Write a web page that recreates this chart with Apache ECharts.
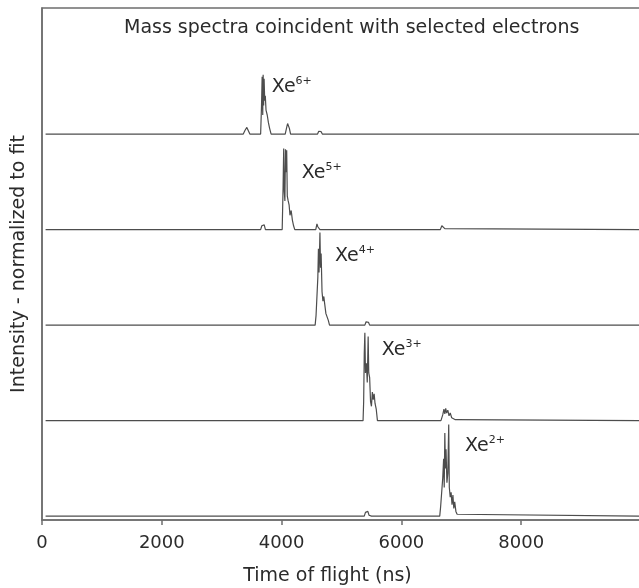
<!DOCTYPE html>
<html>
<head>
<meta charset="utf-8">
<script src="https://cdn.jsdelivr.net/npm/echarts@6/dist/echarts.min.js"></script>
<style>html,body{margin:0;padding:0;background:#fff}#c{width:639px;height:588px}</style>
</head>
<body>
<div id="c"></div>
<script>
// Time of flight (ns) and normalized intensity for each spectrum (Xe6+ ... Xe2+)
const time6 = [60, 1700, 1720, 1740, 3360, 3390, 3420, 3445, 3470, 3650, 3665, 3675, 3685, 3692, 3700, 3708, 3718, 3728, 3740, 3760, 3780, 3800, 3825, 4060, 4085, 4100, 4115, 4130, 4150, 4600, 4620, 4640, 4660, 4680, 4700, 4720, 10000];
const int6  = [0, 0, 0.01, 0, 0, 0.04, 0.07, 0.05, 0, 0, 0.3, 0.6, 0.2, 0.62, 0.3, 0.58, 0.35, 0.4, 0.25, 0.2, 0.12, 0.06, 0, 0, 0.07, 0.11, 0.09, 0.06, 0, 0, 0.03, 0.01, 0.025, 0, 0.02, 0, 0];

const time5 = [60, 1680, 1700, 1720, 2580, 2600, 2620, 3280, 3300, 3320, 3650, 3670, 3690, 3710, 3730, 4010, 4025, 4035, 4045, 4055, 4065, 4075, 4085, 4095, 4110, 4125, 4140, 4160, 4180, 4200, 4220, 4570, 4590, 4605, 4620, 4640, 5120, 5140, 5160, 5310, 5330, 5350, 5460, 5480, 5500, 6650, 6675, 6690, 6705, 6725, 6750, 10000];
const int5  = [0, 0, 0.015, 0, 0, 0.015, 0, 0, 0.015, 0, 0, 0.04, 0.02, 0.05, 0, 0, 0.45, 0.85, 0.4, 0.3, 0.84, 0.6, 0.83, 0.35, 0.3, 0.26, 0.15, 0.2, 0.1, 0.04, 0, 0, 0.06, 0.03, 0.05, 0, 0, 0.015, 0, 0, 0.015, 0, 0, 0.015, 0, 0, 0.04, 0.02, 0.05, 0.01, 0, 0];

const time4 = [60, 780, 800, 820, 2560, 2580, 2600, 3580, 3600, 3620, 4560, 4575, 4595, 4605, 4615, 4625, 4640, 4650, 4660, 4675, 4690, 4705, 4720, 4740, 4760, 4780, 4800, 5390, 5410, 5430, 5450, 5470, 10000];
const int4  = [0, 0, 0.015, 0, 0, 0.01, 0, 0, 0.015, 0, 0, 0.1, 0.12, 0.5, 0.8, 0.55, 0.97, 0.6, 0.75, 0.35, 0.25, 0.3, 0.22, 0.12, 0.1, 0.05, 0, 0, 0.035, 0.015, 0.03, 0, 0];

const time3 = [60, 5360, 5370, 5380, 5390, 5400, 5415, 5430, 5445, 5455, 5470, 5485, 5500, 5515, 5530, 5545, 5560, 5580, 5600, 6660, 6690, 6710, 6725, 6740, 6755, 6775, 6795, 6815, 6840, 6870, 6900, 6930, 10000];
const int3  = [0, 0, 0.2, 0.7, 0.92, 0.5, 0.6, 0.4, 0.88, 0.5, 0.45, 0.2, 0.15, 0.3, 0.22, 0.28, 0.18, 0.12, 0, 0, 0.06, 0.12, 0.07, 0.13, 0.08, 0.11, 0.05, 0.08, 0.03, 0.04, 0.01, 0, 0];

const time2 = [60, 5380, 5400, 5420, 5440, 5460, 5480, 5500, 6640, 6655, 6675, 6690, 6705, 6715, 6725, 6735, 6745, 6760, 6775, 6790, 6800, 6815, 6830, 6845, 6860, 6875, 6890, 6910, 6930, 6945, 10000];
const int2  = [0, 0, 0.04, 0.02, 0.05, 0.01, 0.03, 0, 0, 0.1, 0.12, 0.4, 0.6, 0.3, 0.87, 0.5, 0.7, 0.35, 0.45, 0.96, 0.3, 0.2, 0.25, 0.12, 0.22, 0.08, 0.15, 0.05, 0.02, 0, 0];

const ionNames = ['Xe', 'Xe', 'Xe', 'Xe', 'Xe'];
const charges = ['6+', '5+', '4+', '3+', '2+'];
const xTicks = [0, 2000, 4000, 6000, 8000];

const titleText = 'Mass spectra coincident with selected electrons';
const xName = 'Time of flight (ns)';
const yName = 'Intensity - normalized to fit';

// layout (vertical offsets of stacked traces, label anchors in data units)
const offsets = [4.04, 3.04, 2.04, 1.04, 0.04];
const labelAnchors = [[3835, 4.55], [4335, 3.65], [4890, 2.775], [5670, 1.79], [7060, 0.785]];

const times = [time6, time5, time4, time3, time2];
const ints = [int6, int5, int4, int3, int2];

const chart = echarts.init(document.getElementById('c'), null, {renderer: 'canvas'});
const FONT = '"DejaVu Sans", "Liberation Sans", Arial, sans-serif';
const TXT = '#2b2b2b';
const AX = '#6e6e6e';

const series = times.map((ts, k) => ({
  type: 'line',
  data: ts.map((t, i) => [t, offsets[k] + ints[k][i]]),
  symbol: 'none',
  smooth: false,
  lineStyle: {color: '#4d4d4d', width: 1.2},
  animation: false,
  silent: true
}));

chart.setOption({
  animation: false,
  backgroundColor: '#fff',
  title: {
    text: titleText,
    left: 124, top: 19, padding: 0,
    textStyle: {fontFamily: FONT, fontSize: 19, fontWeight: 'normal', color: TXT}
  },
  grid: {left: 42, right: -2, top: 8, bottom: 68, show: true, borderColor: AX, borderWidth: 1.5,
    backgroundColor: 'transparent', outerBoundsMode: 'none', containLabel: false},
  xAxis: {
    type: 'value', min: 0, max: 10000, interval: 2000,
    name: xName, nameLocation: 'middle', nameGap: 47,
    nameTextStyle: {fontFamily: FONT, fontSize: 19, color: TXT, padding: [0, 28, 0, 0]},
    axisLine: {show: true, lineStyle: {color: AX, width: 1.5}},
    axisTick: {show: true, length: 5, lineStyle: {color: AX, width: 1.5}},
    axisLabel: {fontFamily: FONT, fontSize: 18, color: TXT, margin: 14,
      formatter: v => xTicks.indexOf(v) >= 0 ? String(v) : ''},
    splitLine: {show: false}
  },
  yAxis: {
    type: 'value', min: 0, max: 5.36,
    name: yName, nameLocation: 'middle', nameGap: 13, nameRotate: 90,
    nameTextStyle: {fontFamily: FONT, fontSize: 19, color: TXT},
    axisLine: {show: true, lineStyle: {color: AX, width: 1.5}},
    axisTick: {show: false},
    axisLabel: {show: false},
    splitLine: {show: false}
  },
  series: series
});

// ion labels placed through the chart's own coordinate conversion
const labels = labelAnchors.map((a, k) => {
  const p = chart.convertToPixel({gridIndex: 0}, a);
  return {
    type: 'text',
    x: p[0], y: p[1],
    silent: true,
    style: {
      text: '{b|' + ionNames[k] + '}{s|' + charges[k] + '}',
      align: 'left',
      verticalAlign: 'middle',
      rich: {
        b: {fontFamily: FONT, fontSize: 19, fill: TXT, lineHeight: 22, verticalAlign: 'bottom'},
        s: {fontFamily: FONT, fontSize: 11, fill: TXT, lineHeight: 22, verticalAlign: 'top', padding: [1, 0, 0, 0]}
      }
    }
  };
});
chart.setOption({graphic: labels});
</script>
</body>
</html>
